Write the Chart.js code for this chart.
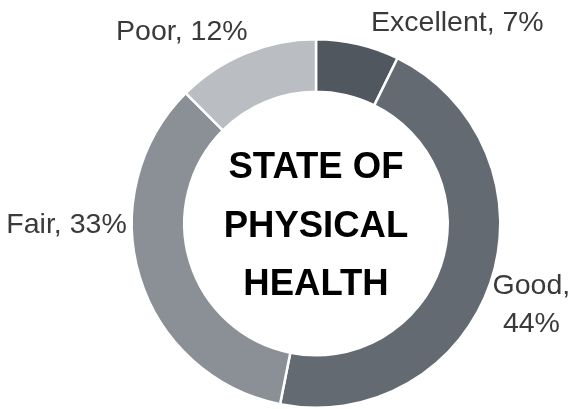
<!DOCTYPE html>
<html>
<head>
<meta charset="utf-8">
<script src="https://cdn.jsdelivr.net/npm/chart.js@4/dist/chart.umd.min.js"></script>
<style>
  html, body { margin: 0; padding: 0; background: #fff; }
  #chart { display: block; }
</style>
</head>
<body>
<canvas id="chart" width="573" height="409"></canvas>
<script>
// Datos del gráfico
const categories = ["Excellent", "Good", "Fair", "Poor"];
const percents = [7, 44, 33, 12];
const centerTitle = ["STATE OF", "PHYSICAL", "HEALTH"];

// Estilo
const sliceColors = ["#50575e", "#646a72", "#8b9096", "#babdc1"];
// desplazamiento de cada etiqueta respecto a su punto en el arco (px)
const labelOffsets = [[95, 6], [22, 5], [-54, -50], [-56, 5]];

const labelFont = "28.5px 'Liberation Sans', Arial, sans-serif";
const titleFont = "bold 36.5px 'Liberation Sans', Arial, sans-serif";

// Plugin para dibujar las etiquetas y el texto central
const doughnutText = {
  id: "doughnutText",
  afterDatasetsDraw(chart) {
    const ctx = chart.ctx;
    const meta = chart.getDatasetMeta(0);
    ctx.save();
    ctx.font = labelFont;
    ctx.fillStyle = "#3a3a3a";
    ctx.textAlign = "center";
    ctx.textBaseline = "alphabetic";

    meta.data.forEach((arc, i) => {
      const mid = (arc.startAngle + arc.endAngle) / 2;
      const r = arc.outerRadius + 20;
      const x = arc.x + Math.cos(mid) * r + labelOffsets[i][0];
      const y = arc.y + Math.sin(mid) * r + labelOffsets[i][1];
      const text = categories[i] + ", " + percents[i] + "%";
      const w = ctx.measureText(text).width;
      let lines = [text];
      // partir en dos líneas si no cabe en el canvas
      if (x + w / 2 > chart.width || x - w / 2 < 0) {
        lines = [categories[i] + ",", percents[i] + "%"];
      }
      lines.forEach((line, j) => ctx.fillText(line, x, y + j * 38));
    });

    // Texto central
    const cx = meta.data[0].x;
    const cy = meta.data[0].y;
    ctx.font = titleFont;
    ctx.fillStyle = "#000000";
    centerTitle.forEach((line, i) => {
      ctx.fillText(line, cx, cy + 13 + (i - 1) * 58.5);
    });
    ctx.restore();
  },
};

new Chart(document.getElementById("chart"), {
  type: "doughnut",
  data: {
    labels: categories,
    datasets: [
      {
        data: percents,
        backgroundColor: sliceColors,
        borderColor: "#ffffff",
        borderWidth: 2.5,
      },
    ],
  },
  options: {
    responsive: false,
    animation: false,
    cutout: "71.5%",
    layout: { padding: { left: 130, right: 71, top: 38, bottom: 0 } },
    plugins: {
      legend: { display: false },
      tooltip: { enabled: false },
    },
  },
  plugins: [doughnutText],
});
</script>
</body>
</html>
